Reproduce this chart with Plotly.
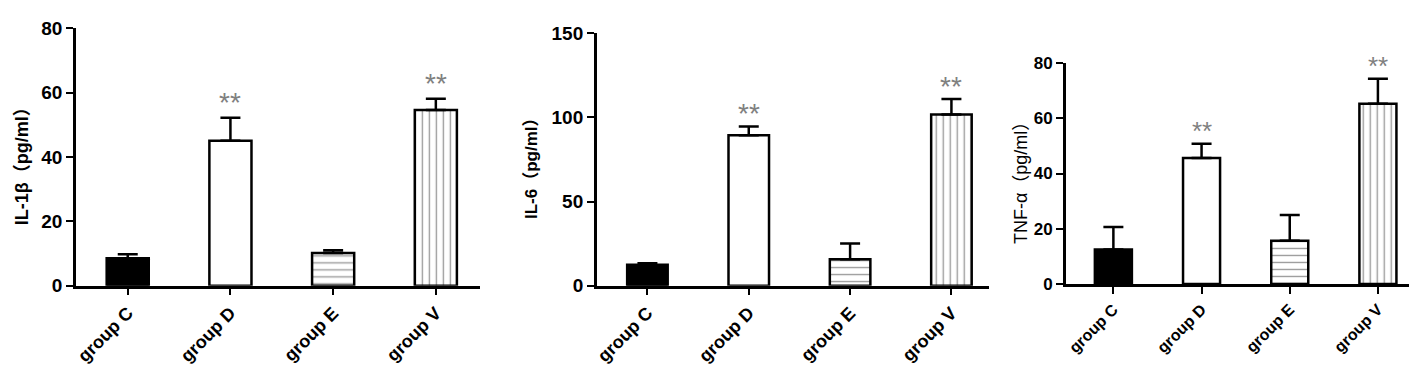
import plotly.graph_objects as go

categories = ["group C", "group D", "group E", "group V"]

il1b_mean = [8.5, 45.1, 10.2, 54.6]
il1b_err = [1.3, 7.1, 0.8, 3.5]
il6_mean = [12.5, 89.4, 15.7, 101.7]
il6_err = [0.9, 5.2, 9.3, 9.1]
tnf_mean = [12.5, 45.6, 15.7, 65.2]
tnf_err = [8.2, 5.2, 9.3, 9.1]
stars = ["", "**", "", "**"]
y_titles = ["IL-1β（pg/ml）", "IL-6（pg/ml）", "TNF-α（pg/ml）"]

W, H = 1417, 366

fig = go.Figure()

panels = [
    dict(mean=il1b_mean, err=il1b_err, yr=[0, 80], dt=20,
         xpx=(65, 470), ypx=(284, 11), xr=[-0.505, 3.43], bw=0.41, tfs=19, cfs=18,
         tpos=(11, 152), titlefs=18, titlebold=True, sfs=28, sy=15),
    dict(mean=il6_mean, err=il6_err, yr=[0, 150], dt=50,
         xpx=(587, 980), ypx=(284, 16), xr=[-0.5, 3.37], bw=0.40, tfs=19, cfs=18,
         tpos=(521, 155), titlefs=17, titlebold=True, sfs=28, sy=13),
    dict(mean=tnf_mean, err=tnf_err, yr=[0, 80], dt=20,
         xpx=(1057, 1414), ypx=(282.3, 47.7), xr=[-0.54, 3.5], bw=0.42, tfs=17, cfs=16,
         tpos=(1012, 170), titlefs=18, titlebold=False, sfs=26, sy=13),
]

fills = [
    dict(color="black", pattern=dict(shape="")),
    dict(color="white", pattern=dict(shape="")),
    dict(color="white", pattern=dict(shape="-", fgcolor="#3a3a3a", bgcolor="white", size=7, solidity=0.2)),
    dict(color="white", pattern=dict(shape="|", fgcolor="#3a3a3a", bgcolor="white", size=7, solidity=0.2)),
]

FONT = "Liberation Sans, Arial, Noto Sans CJK SC"

for i, p in enumerate(panels):
    n = "" if i == 0 else str(i + 1)
    xa, ya = "x" + n, "y" + n
    for j, cat in enumerate(categories):
        fig.add_trace(go.Bar(
            x=[j], y=[p["mean"][j]], width=p["bw"], xaxis=xa, yaxis=ya,
            marker=dict(color=fills[j]["color"], pattern=fills[j]["pattern"],
                        line=dict(color="black", width=2.5)),
            error_y=dict(type="data", array=[p["err"][j]], arrayminus=[0], symmetric=False,
                         color="black", thickness=2.5, width=10),
            showlegend=False, hoverinfo="skip",
        ))
        if stars[j]:
            fig.add_annotation(x=j, y=p["mean"][j] + p["err"][j], xref=xa, yref=ya,
                               text=stars[j], showarrow=False, yanchor="middle", yshift=p["sy"],
                               font=dict(size=p["sfs"], color="#808080", family=FONT))
    x0, x1 = p["xpx"]
    yb, yt = p["ypx"]
    fig.layout["xaxis" + n] = dict(
        domain=[x0 / W, x1 / W], range=p["xr"], anchor=ya,
        tickmode="array", tickvals=list(range(4)), ticktext=categories,
        tickangle=-45, ticks="outside", ticklen=7, tickwidth=2, tickcolor="black",
        showline=True, linecolor="black", linewidth=2.5, showgrid=False, zeroline=False,
        tickfont=dict(family=FONT, size=p["cfs"], color="black", weight="bold"),
        fixedrange=True,
    )
    fig.layout["yaxis" + n] = dict(
        domain=[1 - yb / H, 1 - yt / H], range=p["yr"], anchor=xa,
        tickmode="linear", tick0=0, dtick=p["dt"],
        ticks="outside", ticklen=7, tickwidth=2, tickcolor="black",
        showline=True, linecolor="black", linewidth=2.5, showgrid=False, zeroline=False,
        tickfont=dict(family=FONT, size=p["tfs"], color="black", weight="bold"),
        fixedrange=True,
    )
    tx, ty = p["tpos"]
    fig.add_annotation(x=tx / W, y=1 - ty / H, xref="paper", yref="paper",
                       text=y_titles[i], textangle=-90, showarrow=False,
                       xanchor="center", yanchor="middle",
                       font=dict(family=FONT, size=p["titlefs"], color="black",
                                 weight="bold" if p["titlebold"] else "normal"))

fig.update_layout(
    width=W, height=H, margin=dict(l=0, r=0, t=0, b=0),
    paper_bgcolor="white", plot_bgcolor="white", barmode="overlay",
    font=dict(family=FONT, color="black"),
)

fig.write_html("out.html")
